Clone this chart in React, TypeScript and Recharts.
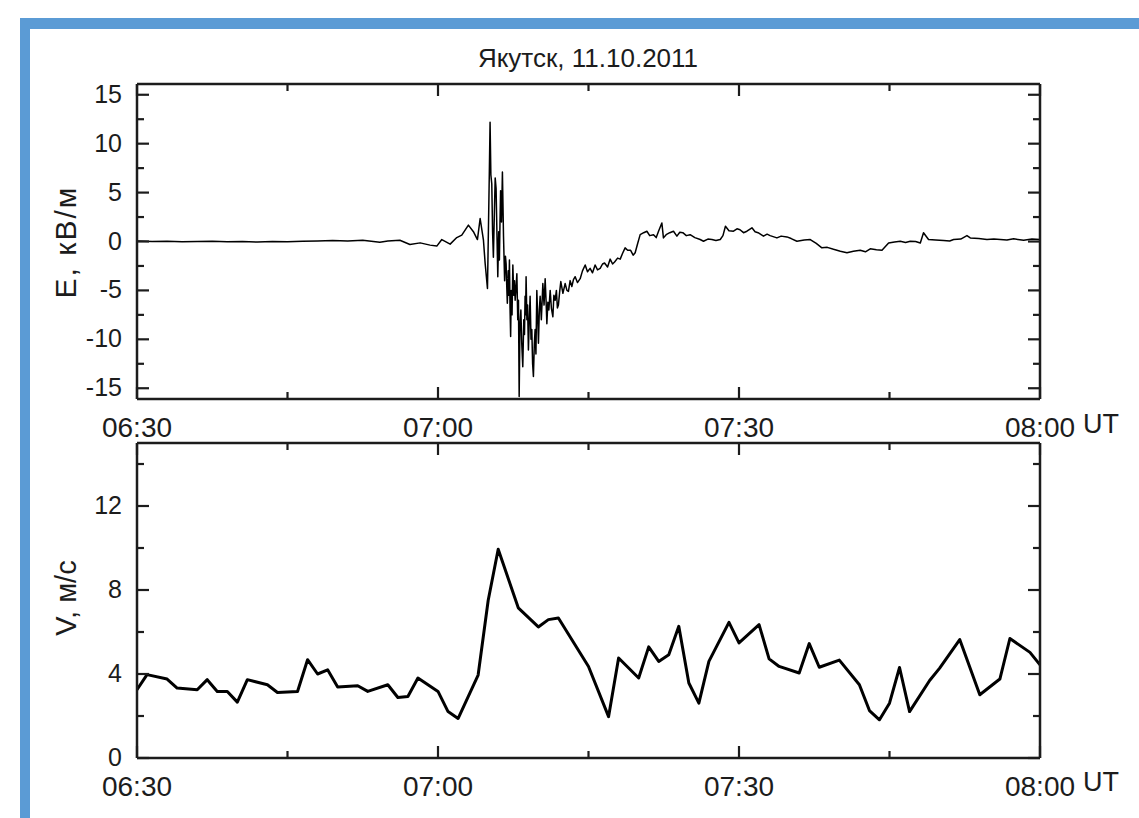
import { LineChart, Line, XAxis, YAxis } from "recharts";

// minutes after 06:30 UT
const timeTicks = [0, 15, 30, 45, 60, 75, 90];
const timeLabels = ["06:30", "07:00", "07:30", "08:00"];
const eTicks = [-15, -12.5, -10, -7.5, -5, -2.5, 0, 2.5, 5, 7.5, 10, 12.5, 15];
const vTicks = [0, 2, 4, 6, 8, 10, 12, 14];

// E, kV/m
const eMinutes = [
  0, 1.5, 3, 4.5, 6, 7.5, 9, 10.5, 12, 13.5,
  15, 16.5, 18, 19.5, 21, 22.5, 24.2, 25, 26.2, 27.2,
  28.22, 29.21, 29.88, 30.38, 31.21, 31.87, 32.37, 33.03, 33.53, 33.93,
  34.2, 34.53, 34.7, 34.93, 35.03, 35.12, 35.19, 35.27, 35.36, 35.44,
  35.52, 35.62, 35.7, 35.79, 35.88, 35.96, 36.05, 36.12, 36.18, 36.24,
  36.33, 36.42, 36.53, 36.64, 36.72, 36.79, 36.85, 36.91, 37.0, 37.06,
  37.12, 37.18, 37.24, 37.3, 37.38, 37.46, 37.55, 37.62, 37.69, 37.77,
  37.86, 37.95, 38.02, 38.09, 38.17, 38.26, 38.35, 38.45, 38.55, 38.62,
  38.68, 38.73, 38.78, 38.86, 38.93, 39.01, 39.1, 39.18, 39.27, 39.35,
  39.43, 39.51, 39.6, 39.68, 39.76, 39.85, 39.93, 40.01, 40.1, 40.18,
  40.3, 40.45, 40.57, 40.68, 40.77, 40.85, 40.95, 41.05, 41.18, 41.3,
  41.45, 41.55, 41.68, 41.8, 41.9, 42.0, 42.12, 42.24, 42.45, 42.67,
  42.85, 43.0, 43.17, 43.34, 43.5, 43.67, 43.9, 44.17, 44.4, 44.67,
  44.9, 45.16, 45.4, 45.66, 45.9, 46.16, 46.4, 46.6, 46.9, 47.16,
  47.4, 47.6, 47.9, 48.16, 48.4, 48.65, 48.9, 49.2, 49.45, 49.65,
  49.9, 50.15, 50.5, 50.82, 51.1, 51.48, 51.75, 52.0, 52.31, 52.47,
  52.74, 53.1, 53.47, 53.81, 54.1, 54.4, 54.75, 55.13, 55.6, 56.13,
  56.46, 56.9, 57.3, 57.7, 58.13, 58.4, 58.65, 59.0, 59.45, 59.8,
  60.1, 60.45, 60.79, 61.29, 61.6, 61.9, 62.44, 62.8, 63.1, 63.78,
  64.2, 64.78, 65.2, 65.77, 66.5, 67.1, 67.7, 68.26, 68.8, 69.42,
  70.1, 70.76, 71.4, 72.08, 72.6, 73.08, 73.7, 74.25, 74.91, 75.5,
  76.07, 76.6, 77.07, 77.6, 78.07, 78.39, 78.89, 79.6, 80.39, 81.0,
  81.39, 82.1, 82.72, 83.05, 83.9, 84.71, 85.4, 86.04, 86.7, 87.37,
  88.37, 89.2, 90,
];
const eValues = [
  0.05, 0, 0.02, -0.03, 0, 0.03, -0.02, 0, -0.05, 0,
  -0.03, 0.02, 0.05, 0.1, 0.05, 0.12, -0.07, 0.05, 0.13, -0.3,
  -0.14, -0.37, -0.47, 0.2, -0.27, 0.4, 0.65, 1.67, 1.0, 0.2,
  2.35, 0.13, -2.25, -4.8, 1.5, 7.3, 12.2, 6.8, 5.9, 1.0,
  -1.6, 3.0, 6.5, 5.4, 0.5, -3.6, 1.0, -1.9, 2.0, 5.2,
  2.0, 7.1, 0.5, -4.0, -1.5, -2.3, -4.5, -6.3, -3.0, -5.5,
  -1.9, -6.8, -9.7, -5.0, -7.5, -2.4, -5.5, -4.0, -6.0, -4.8,
  -3.3, -8.0, -6.0, -15.85, -8.5, -7.0, -10.5, -12.8, -8.0, -9.5,
  -5.6, -7.5, -3.6, -8.0, -6.5, -11.1, -8.0, -5.6, -10.0, -9.0,
  -12.5, -13.8, -10.5, -9.0, -11.5, -5.0, -7.5, -10.4, -7.0, -5.6,
  -8.0, -4.3, -6.5, -3.8, -6.0, -8.4, -6.2, -7.0, -5.0, -6.8,
  -7.7, -5.5, -6.0, -5.0, -6.8, -6.5, -5.2, -4.1, -5.3, -4.3,
  -5.0, -5.1, -4.0, -4.6, -3.9, -3.6, -4.2, -3.8, -3.0, -2.4,
  -3.1, -2.75, -3.2, -2.4, -2.9, -2.75, -2.3, -2.2, -2.6, -1.8,
  -2.3, -2.1, -1.7, -1.8, -1.2, -0.65, -0.9, -0.9, -1.4, -1.15,
  -0.2, 0.7, 0.9, 1.05, 0.6, 0.7, 0.4, 1.1, 1.9, 0.37,
  0.7, 0.9, 1.05, 0.55, 0.95, 0.9, 0.6, 0.7, 0.4, 0.2,
  0.03, 0.25, 0.2, 0.1, 0.2, 0.6, 1.56, 1.1, 1.05, 1.3,
  1.2, 0.9, 1.05, 1.4, 1.0, 0.9, 0.55, 0.75, 0.6, 0.37,
  0.55, 0.47, 0.3, 0.03, 0.15, 0.2, -0.2, -0.65, -0.6, -0.8,
  -1.0, -1.15, -1.0, -0.9, -1.05, -0.75, -0.85, -0.9, -0.15, -0.05,
  0.03, -0.1, 0.03, 0.0, -0.15, 0.9, 0.2, 0.15, 0.1, 0.05,
  0.2, 0.25, 0.6, 0.37, 0.3, 0.2, 0.25, 0.2, 0.15, 0.27,
  0.13, 0.25, 0.2,
];

// V, m/s
const vMinutes = [
  0, 1, 3, 4, 6, 7, 8, 9, 10, 11, 13, 14, 16, 17, 18, 19, 20, 22, 23, 25, 26, 27, 28, 30, 31, 32,
  34, 35, 36, 38, 40, 41, 42, 45, 47, 48, 50, 51, 52, 53, 54, 55, 56, 57, 59, 60, 62, 63, 64, 66,
  67, 68, 70, 72, 73, 74, 75, 76, 77, 79, 80, 82, 84, 86, 87, 89, 90,
];
const vValues = [
  3.25, 3.97, 3.76, 3.33, 3.25, 3.73, 3.17, 3.17, 2.66, 3.73, 3.49, 3.12, 3.17, 4.68, 4.0, 4.2, 3.38, 3.44, 3.17, 3.49, 2.88, 2.93, 3.81, 3.17, 2.21, 1.88,
  3.95, 7.5, 9.94, 7.15, 6.24, 6.59, 6.67, 4.36, 1.97, 4.76, 3.81, 5.29, 4.6, 4.92, 6.27, 3.57, 2.61, 4.6, 6.46, 5.48, 6.35, 4.72, 4.36, 4.05,
  5.45, 4.32, 4.66, 3.49, 2.26, 1.82, 2.61, 4.31, 2.21, 3.69, 4.28, 5.64, 3.01, 3.76, 5.69, 5.03, 4.44,
];

const eData = eMinutes.map((t, i) => ({ t, e: eValues[i] }));
const vData = vMinutes.map((t, i) => ({ t, v: vValues[i] }));

const INK = "#1c1c1c";
const FONT = "'Liberation Sans', Arial, sans-serif";

function BottomTick({ x, y, payload }: any) {
  const v = payload.value;
  const major = v % 30 === 0;
  return (
    <g>
      <line x1={x} y1={y} x2={x} y2={y - (major ? 12 : 7)} stroke={INK} strokeWidth={2.2} />
      {major && (
        <text x={x} y={y + 38} textAnchor="middle" fontSize={28} fontFamily={FONT} fill={INK}>
          {timeLabels[v / 30]}
        </text>
      )}
    </g>
  );
}

function TopTick({ x, y, payload }: any) {
  const major = payload.value % 30 === 0;
  return <line x1={x} y1={y} x2={x} y2={y + (major ? 12 : 7)} stroke={INK} strokeWidth={2.2} />;
}

function makeLeftTick(step: number) {
  return function LeftTick({ x, y, payload }: any) {
    const v = payload.value;
    const major = Math.abs(v % step) < 1e-6;
    return (
      <g>
        <line x1={x} y1={y} x2={x + (major ? 12 : 7)} y2={y} stroke={INK} strokeWidth={2.2} />
        {major && (
          <text x={x - 15} y={y + 8} textAnchor="end" fontSize={25} fontFamily={FONT} fill={INK}>
            {v}
          </text>
        )}
      </g>
    );
  };
}

function makeRightTick(step: number) {
  return function RightTick({ x, y, payload }: any) {
    const major = Math.abs(payload.value % step) < 1e-6;
    return <line x1={x} y1={y} x2={x - (major ? 12 : 7)} y2={y} stroke={INK} strokeWidth={2.2} />;
  };
}

const axisLine = { stroke: INK, strokeWidth: 2.5 };

function Panel({ data, dataKey, domain, ticks, step, width, height, margin, strokeWidth }: any) {
  return (
    <LineChart width={width} height={height} data={data} margin={margin}>
      <XAxis
        xAxisId="b"
        dataKey="t"
        type="number"
        domain={[0, 90]}
        ticks={timeTicks}
        allowDataOverflow
        height={30}
        tickSize={0}
        tickMargin={0}
        tickLine={false}
        axisLine={axisLine}
        tick={BottomTick}
        interval={0}
      />
      <XAxis
        xAxisId="t"
        orientation="top"
        dataKey="t"
        type="number"
        domain={[0, 90]}
        ticks={timeTicks}
        allowDataOverflow
        height={1}
        tickSize={0}
        tickMargin={0}
        tickLine={false}
        axisLine={axisLine}
        tick={TopTick}
        interval={0}
      />
      <YAxis
        yAxisId="l"
        type="number"
        domain={domain}
        ticks={ticks}
        allowDataOverflow
        width={60}
        tickSize={0}
        tickMargin={0}
        tickLine={false}
        axisLine={axisLine}
        tick={makeLeftTick(step)}
        interval={0}
      />
      <YAxis
        yAxisId="r"
        orientation="right"
        type="number"
        domain={domain}
        ticks={ticks}
        allowDataOverflow
        width={1}
        tickSize={0}
        tickMargin={0}
        tickLine={false}
        axisLine={axisLine}
        tick={makeRightTick(step)}
        interval={0}
      />
      <Line
        xAxisId="b"
        yAxisId="l"
        type="linear"
        dataKey={dataKey}
        stroke="#000"
        strokeWidth={strokeWidth}
        strokeLinejoin="round"
        dot={false}
        activeDot={false}
        isAnimationActive={false}
      />
    </LineChart>
  );
}

export default function App() {
  return (
    <div
      style={{
        position: "absolute",
        left: 0,
        top: 0,
        width: 1139,
        height: 818,
        background: "#fff",
        overflow: "hidden",
        fontFamily: FONT,
      }}
    >
      <div style={{ position: "absolute", left: 20, top: 18, width: 10, height: 800, background: "#5b9bd5" }} />
      <div style={{ position: "absolute", left: 20, top: 18, width: 1119, height: 11, background: "#5b9bd5" }} />

      <div style={{ position: "absolute", left: 0, top: 0 }}>
        <Panel
          data={eData}
          dataKey="e"
          domain={[-16.1, 16.1]}
          ticks={eTicks}
          step={5}
          width={1139}
          height={470}
          margin={{ top: 83, right: 98, bottom: 41, left: 77 }}
          strokeWidth={1.5}
        />
      </div>
      <div style={{ position: "absolute", left: 0, top: 420 }}>
        <Panel
          data={vData}
          dataKey="v"
          domain={[0, 15]}
          ticks={vTicks}
          step={4}
          width={1139}
          height={398}
          margin={{ top: 22, right: 98, bottom: 30, left: 77 }}
          strokeWidth={3}
        />
      </div>

      <svg width={1139} height={818} style={{ position: "absolute", left: 0, top: 0, pointerEvents: "none" }}>
        <text x={588} y={67} textAnchor="middle" fontSize={26} fontFamily={FONT} fill={INK}>
          Якутск, 11.10.2011
        </text>
        <text
          x={76}
          y={242}
          transform="rotate(-90 76 242)"
          textAnchor="middle"
          fontSize={30}
          letterSpacing={2}
          fontFamily={FONT}
          fill={INK}
        >
          E, кВ/м
        </text>
        <text
          x={76}
          y={598}
          transform="rotate(-90 76 598)"
          textAnchor="middle"
          fontSize={29}
          fontFamily={FONT}
          fill={INK}
        >
          V, м/с
        </text>
        <text x={1083} y={433} fontSize={27} fontFamily={FONT} fill={INK}>
          UT
        </text>
        <text x={1083} y={791} fontSize={27} fontFamily={FONT} fill={INK}>
          UT
        </text>
      </svg>
    </div>
  );
}
